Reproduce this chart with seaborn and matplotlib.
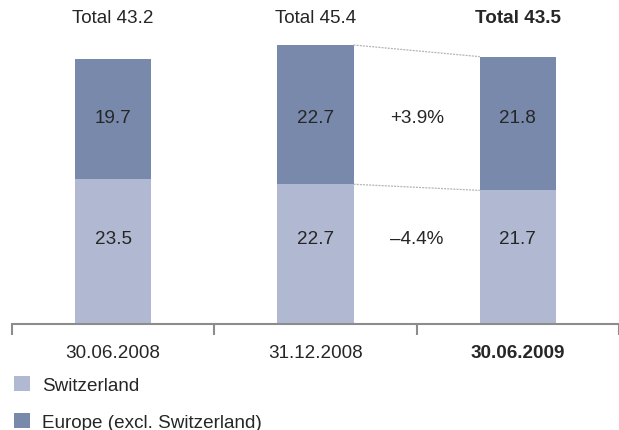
import matplotlib
matplotlib.use("Agg")
import matplotlib.pyplot as plt
from matplotlib.patches import Patch
import seaborn as sns
import pandas as pd

# Loan volumes by region (CHF bn)
dates = ["30.06.2008", "31.12.2008", "30.06.2009"]
switzerland = [23.5, 22.7, 21.7]
europe = [19.7, 22.7, 21.8]
totals = [43.2, 45.4, 43.5]
change_labels = ["+3.9%", "\u20134.4%"]

LIGHT = "#B1B9D2"
DARK = "#7889AB"
TEXT = "#262626"
AXIS = "#8C8C8C"

sns.set_theme(style="white")
plt.rcParams["font.family"] = ["Liberation Sans", "DejaVu Sans"]
FS = 13.6

df = pd.DataFrame({
    "date": dates,
    "switzerland": switzerland,
    "europe": europe,
})
df["stack_top"] = df["switzerland"] + df["europe"]

fig = plt.figure(figsize=(6.19, 4.31), dpi=100)
ax = fig.add_axes([12 / 619, 1 - 324.5 / 431, 607 / 619, 324.5 / 431])

bw = 0.376
# full stack height drawn in the dark colour, Switzerland overlaid in light
sns.barplot(data=df, x="date", y="stack_top", order=dates, color=DARK,
            saturation=1, width=bw, ax=ax, edgecolor="none")
sns.barplot(data=df, x="date", y="switzerland", order=dates, color=LIGHT,
            saturation=1, width=bw, ax=ax, edgecolor="none")

ax.set_xlim(-0.5, 2.5)
ax.set_ylim(0, 52.9)
ax.set_xlabel("")
ax.set_ylabel("")
ax.set_yticks([])

# segment values
for i in range(3):
    ax.text(i, 13.8, f"{switzerland[i]:.1f}", ha="center", va="center",
            fontsize=FS, color=TEXT)
    ax.text(i, 33.65, f"{europe[i]:.1f}", ha="center", va="center",
            fontsize=FS, color=TEXT)
    ax.text(i, 49.9, f"Total {totals[i]:.1f}", ha="center", va="center",
            fontsize=FS, color=TEXT,
            fontweight="bold" if i == 2 else "normal")

# connectors between the last two bars
x0, x1 = 1 + bw / 2, 2 - bw / 2
ax.plot([x0, x1], [df["stack_top"][1], df["stack_top"][2]],
        ls=(0, (1.6, 0.9)), lw=0.9, color="#B4B4B4")
ax.plot([x0, x1], [switzerland[1], switzerland[2]],
        ls=(0, (1.6, 0.9)), lw=0.9, color="#B4B4B4")
ax.text(1.5, 33.65, change_labels[0], ha="center", va="center",
        fontsize=FS, color=TEXT)
ax.text(1.5, 13.8, change_labels[1], ha="center", va="center",
        fontsize=FS, color=TEXT)

# axis styling
for s in ("left", "top", "right"):
    ax.spines[s].set_visible(False)
ax.spines["bottom"].set_color(AXIS)
ax.spines["bottom"].set_linewidth(1.5)
ax.set_xticks([-0.5, 0.5, 1.5, 2.5])
ax.set_xticklabels([])
ax.tick_params(axis="x", which="major", length=8, width=1.5, color=AXIS,
               direction="out", bottom=True)
ax.set_xticks([0, 1, 2], minor=True)
ax.set_xticklabels(dates, minor=True, fontsize=FS, color=TEXT)
ax.tick_params(axis="x", which="minor", length=0, pad=15)
for lbl in ax.get_xticklabels(minor=True)[2:]:
    lbl.set_fontweight("bold")

handles = [Patch(facecolor=LIGHT, edgecolor="none", label="Switzerland"),
           Patch(facecolor=DARK, edgecolor="none", label="Europe (excl. Switzerland)")]
fig.legend(handles=handles, loc="upper left",
           bbox_to_anchor=(14 / 619, 1 - 377 / 431), frameon=False,
           fontsize=FS, labelcolor=TEXT, handlelength=0.85, handleheight=0.85,
           handletextpad=0.65, labelspacing=1.0, borderpad=0, borderaxespad=0)

fig.savefig("out.png", dpi=100)
